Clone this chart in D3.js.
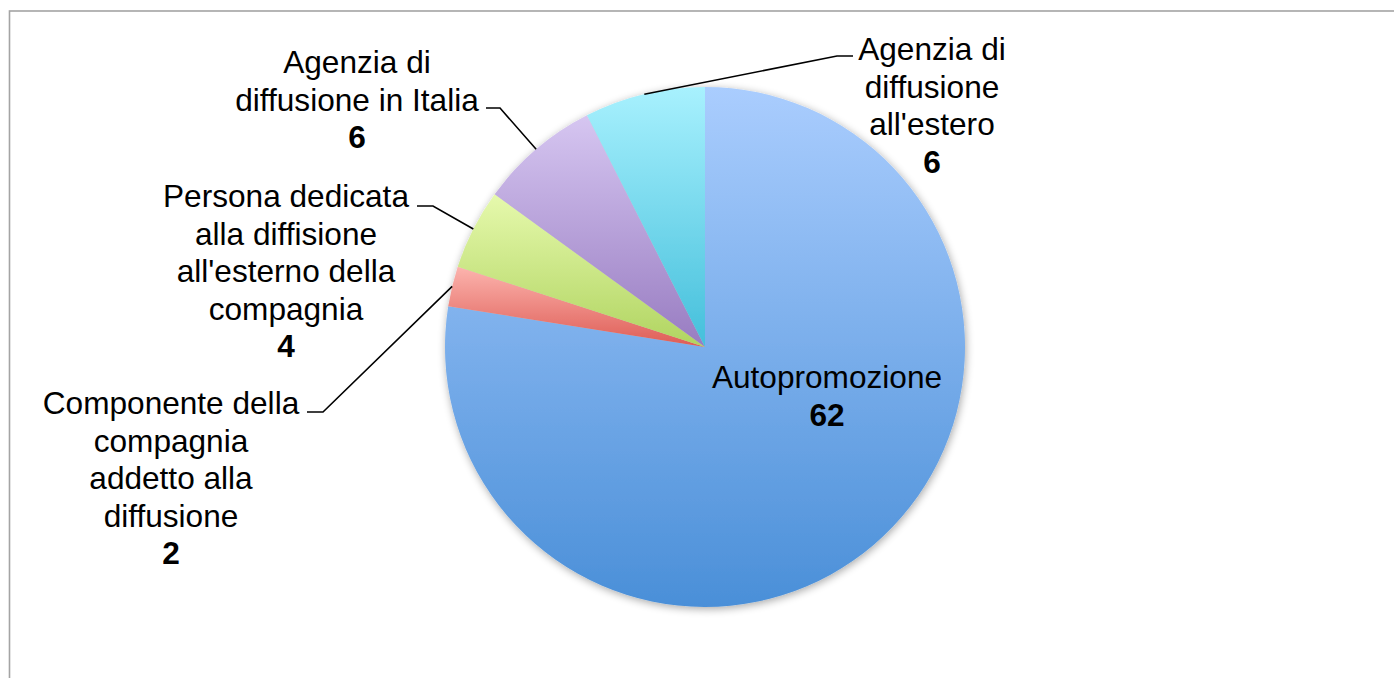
<!DOCTYPE html>
<html>
<head>
<meta charset="utf-8">
<script src="https://cdn.jsdelivr.net/npm/d3@7"></script>
<style>
  html, body { margin: 0; padding: 0; background: #fff; }
  svg { display: block; }
  text { font-family: "Liberation Sans", Arial, sans-serif; fill: #000; }
</style>
</head>
<body>
<svg id="chart" width="1394" height="678"></svg>
<script>
// ---- data ----
const categories = [
  "Autopromozione",
  "Componente della compagnia addetto alla diffusione",
  "Persona dedicata alla diffisione all'esterno della compagnia",
  "Agenzia di diffusione in Italia",
  "Agenzia di diffusione all'estero"
];
const values = [62, 2, 4, 6, 6];
const labelLines = [
  ["Autopromozione"],
  ["Componente della", "compagnia", "addetto alla", "diffusione"],
  ["Persona dedicata", "alla diffisione", "all'esterno della", "compagnia"],
  ["Agenzia di", "diffusione in Italia"],
  ["Agenzia di", "diffusione", "all'estero"]
];
const colorsTop = ["#aacdfe", "#fcb4ae", "#e6f9ad", "#d6c6f1", "#a8f1fe"];
const colorsBottom = ["#4a8fd8", "#de5c55", "#b0d460", "#987cc1", "#44bfdb"];

// ---- layout ----
const cx = 705, cy = 347, R = 260;
const fontSize = 31.6, lineH = 37.6;
// label anchor (center x, first baseline y) and leader elbow points
const labelPos = [
  {x: 827, y: 388, elbow: null},
  {x: 171, y: 414, elbow: [[323, 412], [307, 412]]},
  {x: 286, y: 207, elbow: [[433, 206], [417, 206]]},
  {x: 357, y: 73,  elbow: [[500, 108], [486, 108]]},
  {x: 932, y: 60,  elbow: [[837, 56], [853, 56]]}
];

const svg = d3.select("#chart");
const defs = svg.append("defs");

// shadow filter
const f = defs.append("filter").attr("id", "shadow")
  .attr("x", "-10%").attr("y", "-10%").attr("width", "120%").attr("height", "120%");
f.append("feGaussianBlur").attr("in", "SourceAlpha").attr("stdDeviation", 4).attr("result", "b");
f.append("feOffset").attr("in", "b").attr("dx", 1).attr("dy", 2).attr("result", "o");
f.append("feComponentTransfer").attr("in", "o").attr("result", "s")
  .append("feFuncA").attr("type", "linear").attr("slope", 0.35);
const fm = f.append("feMerge");
fm.append("feMergeNode").attr("in", "s");
fm.append("feMergeNode").attr("in", "SourceGraphic");

values.forEach((v, i) => {
  const g = defs.append("linearGradient").attr("id", "grad" + i)
    .attr("x1", 0).attr("y1", 0).attr("x2", 0).attr("y2", 1);
  g.append("stop").attr("offset", "0%").attr("stop-color", colorsTop[i]);
  g.append("stop").attr("offset", "100%").attr("stop-color", colorsBottom[i]);
});

// border
svg.append("rect")
  .attr("x", 9.5).attr("y", 11).attr("width", 1420).attr("height", 720)
  .attr("fill", "none").attr("stroke", "#a4a4a4").attr("stroke-width", 1.6);

const pie = d3.pie().sort(null).value(d => d)
  .startAngle(0).endAngle(2 * Math.PI);
const arcs = pie(values);
const arc = d3.arc().innerRadius(0).outerRadius(R);

const g = svg.append("g").attr("transform", `translate(${cx},${cy})`);
const slices = g.append("g").attr("filter", "url(#shadow)");
slices.selectAll("path").data(arcs).enter().append("path")
  .attr("d", arc)
  .attr("fill", (d, i) => `url(#grad${i})`);

// leader lines
arcs.forEach((d, i) => {
  const lp = labelPos[i];
  if (!lp.elbow) return;
  const mid = (d.startAngle + d.endAngle) / 2;
  const sx = cx + R * Math.sin(mid), sy = cy - R * Math.cos(mid);
  const pts = [[sx, sy]].concat(lp.elbow);
  svg.append("path")
    .attr("d", d3.line()(pts))
    .attr("fill", "none").attr("stroke", "#000").attr("stroke-width", 1.6);
});

// labels
arcs.forEach((d, i) => {
  const lp = labelPos[i];
  const t = svg.append("text").attr("text-anchor", "middle")
    .attr("font-size", fontSize);
  const lines = labelLines[i];
  lines.forEach((ln, k) => {
    t.append("tspan").attr("x", lp.x).attr("y", lp.y + k * lineH).text(ln);
  });
  t.append("tspan").attr("x", lp.x).attr("y", lp.y + lines.length * lineH)
    .attr("font-weight", "bold").text(values[i]);
});
</script>
</body>
</html>
